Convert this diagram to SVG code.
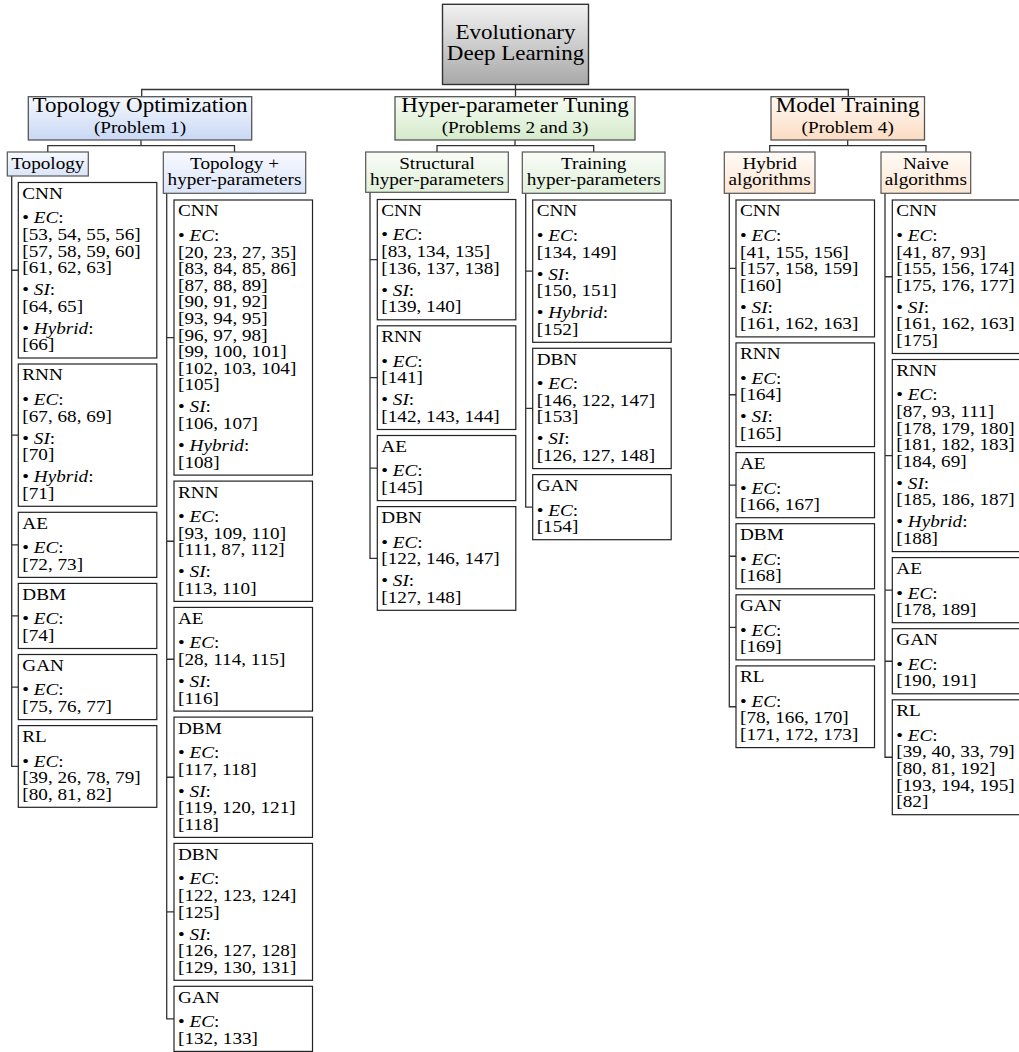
<svg xmlns="http://www.w3.org/2000/svg" width="1019" height="1052" viewBox="0 0 1019 1052">
<defs>
<linearGradient id="gRoot" x1="0" y1="0" x2="0" y2="1"><stop offset="0" stop-color="#f2f2f2"/><stop offset="1" stop-color="#a8a8a8"/></linearGradient>
<linearGradient id="gBlue" x1="0" y1="0" x2="0" y2="1"><stop offset="0" stop-color="#f5f8fe"/><stop offset="1" stop-color="#c9d8f5"/></linearGradient>
<linearGradient id="gGreen" x1="0" y1="0" x2="0" y2="1"><stop offset="0" stop-color="#f8fcf5"/><stop offset="1" stop-color="#d4eaca"/></linearGradient>
<linearGradient id="gOrange" x1="0" y1="0" x2="0" y2="1"><stop offset="0" stop-color="#fffaf5"/><stop offset="1" stop-color="#fbdcc2"/></linearGradient>
<linearGradient id="gBlue2" x1="0" y1="0" x2="0" y2="1"><stop offset="0" stop-color="#f7f9fe"/><stop offset="1" stop-color="#dbe5f8"/></linearGradient>
<linearGradient id="gGreen2" x1="0" y1="0" x2="0" y2="1"><stop offset="0" stop-color="#f9fcf7"/><stop offset="1" stop-color="#e1f0da"/></linearGradient>
<linearGradient id="gOrange2" x1="0" y1="0" x2="0" y2="1"><stop offset="0" stop-color="#fffbf7"/><stop offset="1" stop-color="#fce6d3"/></linearGradient>
</defs>
<style>
.t { font-family: "Liberation Serif", "Times New Roman", serif; font-size: 17px; fill: #000; }
.ti { font-size: 20px; }
.c { text-anchor: middle; }
.i { font-style: italic; }
.root { fill: url(#gRoot); stroke: #333; stroke-width: 1.4; }
.l1 { stroke: #555; stroke-width: 1.3; }
.l2 { stroke: #555; stroke-width: 1.2; }
.box { fill: #fff; stroke: #222; stroke-width: 1.2; }
.con { fill: none; stroke: #333; stroke-width: 1.3; }
</style>
<rect width="1019" height="1052" fill="#fff"/>

<g id="connectors">
<path class="con" d="M515.5 84.5V96.7M141.7 96.7V89.5H848.3V96.7"/>
<path class="con" d="M141 140V145.7M47.8 152V145.7H234.5V152"/>
<path class="con" d="M515 140V145.7M437 152V145.7H593.7V152"/>
<path class="con" d="M847.7 140V145.7M769.7 152V145.7H926V152"/>
<path class="con" d="M11.7 176V766.45H18.3M11.7 270.25H18.3M11.7 435.15H18.3M11.7 544.85H18.3M11.7 615.95H18.3M11.7 687.05H18.3"/>
<path class="con" d="M166.7 193.3V1018.85H174M166.7 337.55H174M166.7 541.25H174M166.7 659.25H174M166.7 777.25H174M166.7 911.85H174"/>
<path class="con" d="M370 192.3V558.45H377.3M370 259.65H377.3M370 377.65H377.3M370 468.05H377.3"/>
<path class="con" d="M525.7 193.3V507.15H532.7M525.7 271.15H532.7M525.7 408.45H532.7"/>
<path class="con" d="M729.3 193.3V706.75H736M729.3 268.45H736M729.3 394.75H736M729.3 485.15H736M729.3 556.25H736M729.3 627.35H736"/>
<path class="con" d="M885 193.3V757.25H892.3M885 276.75H892.3M885 455.55H892.3M885 590.15H892.3M885 661.25H892.3"/>
</g>

<g id="root">
<rect class="root" x="442.5" y="4.3" width="146" height="80.2"/>
<text class="t ti c" transform="matrix(1.15 0 0 1 515.5 0)"><tspan x="0" y="39">Evolutionary</tspan><tspan x="0" y="60.5">Deep Learning</tspan></text>
</g>

<g id="topology-optimization">
<rect class="l1" fill="url(#gBlue)" x="28.3" y="96.7" width="223.4" height="43.3"/>
<text class="t ti c" transform="matrix(1.15 0 0 1 140 0)"><tspan x="0" y="112.5">Topology Optimization</tspan></text>
<text class="t c" transform="matrix(1.13 0 0 1 140 0)"><tspan x="0" y="133">(Problem 1)</tspan></text>
</g>
<g id="hyper-parameter-tuning">
<rect class="l1" fill="url(#gGreen)" x="395" y="96.7" width="240" height="43.3"/>
<text class="t ti c" transform="matrix(1.15 0 0 1 515 0)"><tspan x="0" y="112.5">Hyper-parameter Tuning</tspan></text>
<text class="t c" transform="matrix(1.13 0 0 1 515 0)"><tspan x="0" y="133">(Problems 2 and 3)</tspan></text>
</g>
<g id="model-training">
<rect class="l1" fill="url(#gOrange)" x="771" y="96.7" width="153.5" height="43.3"/>
<text class="t ti c" transform="matrix(1.15 0 0 1 847.7 0)"><tspan x="0" y="112.5">Model Training</tspan></text>
<text class="t c" transform="matrix(1.13 0 0 1 847.7 0)"><tspan x="0" y="133">(Problem 4)</tspan></text>
</g>

<g id="topology">
<rect class="l2" fill="url(#gBlue2)" x="7.3" y="152" width="81" height="24"/>
<text class="t c" transform="matrix(1.13 0 0 1 47.8 0)"><tspan x="0" y="169.5">Topology</tspan></text>
</g>
<g id="topology-hyper">
<rect class="l2" fill="url(#gBlue2)" x="163.3" y="152" width="142.4" height="41.3"/>
<text class="t c" transform="matrix(1.13 0 0 1 234.5 0)"><tspan x="0" y="168.6">Topology +</tspan><tspan x="0" y="185.4">hyper-parameters</tspan></text>
</g>
<g id="structural">
<rect class="l2" fill="url(#gGreen2)" x="365.7" y="152" width="142.6" height="40.3"/>
<text class="t c" transform="matrix(1.13 0 0 1 437 0)"><tspan x="0" y="168.6">Structural</tspan><tspan x="0" y="185.4">hyper-parameters</tspan></text>
</g>
<g id="training">
<rect class="l2" fill="url(#gGreen2)" x="522.3" y="152" width="142.7" height="41.3"/>
<text class="t c" transform="matrix(1.13 0 0 1 593.7 0)"><tspan x="0" y="168.6">Training</tspan><tspan x="0" y="185.4">hyper-parameters</tspan></text>
</g>
<g id="hybrid">
<rect class="l2" fill="url(#gOrange2)" x="724.3" y="152" width="90.7" height="41.3"/>
<text class="t c" transform="matrix(1.13 0 0 1 769.65 0)"><tspan x="0" y="168.6">Hybrid</tspan><tspan x="0" y="185.4">algorithms</tspan></text>
</g>
<g id="naive">
<rect class="l2" fill="url(#gOrange2)" x="881" y="152" width="89.7" height="41.3"/>
<text class="t c" transform="matrix(1.13 0 0 1 925.85 0)"><tspan x="0" y="168.6">Naive</tspan><tspan x="0" y="185.4">algorithms</tspan></text>
</g>

<!-- Column 1: Topology -->
<g id="t-cnn"><rect class="box" x="18.3" y="182.5" width="138.5" height="175.5"/>
<text class="t" transform="matrix(1.13 0 0 1 22.3 0)"><tspan x="0" y="199">CNN</tspan><tspan x="0" y="223.5">• <tspan class="i">EC</tspan>:</tspan><tspan x="0" y="240.1">[53, 54, 55, 56]</tspan><tspan x="0" y="256.7">[57, 58, 59, 60]</tspan><tspan x="0" y="273.3">[61, 62, 63]</tspan><tspan x="0" y="295.3">• <tspan class="i">SI</tspan>:</tspan><tspan x="0" y="311.9">[64, 65]</tspan><tspan x="0" y="333.9">• <tspan class="i">Hybrid</tspan>:</tspan><tspan x="0" y="350.5">[66]</tspan></text></g>
<g id="t-rnn"><rect class="box" x="18.3" y="364" width="138.5" height="142.3"/>
<text class="t" transform="matrix(1.13 0 0 1 22.3 0)"><tspan x="0" y="380.5">RNN</tspan><tspan x="0" y="405">• <tspan class="i">EC</tspan>:</tspan><tspan x="0" y="421.6">[67, 68, 69]</tspan><tspan x="0" y="443.6">• <tspan class="i">SI</tspan>:</tspan><tspan x="0" y="460.2">[70]</tspan><tspan x="0" y="482.2">• <tspan class="i">Hybrid</tspan>:</tspan><tspan x="0" y="498.8">[71]</tspan></text></g>
<g id="t-ae"><rect class="box" x="18.3" y="512.3" width="138.5" height="65.1"/>
<text class="t" transform="matrix(1.13 0 0 1 22.3 0)"><tspan x="0" y="528.8">AE</tspan><tspan x="0" y="553.3">• <tspan class="i">EC</tspan>:</tspan><tspan x="0" y="569.9">[72, 73]</tspan></text></g>
<g id="t-dbm"><rect class="box" x="18.3" y="583.4" width="138.5" height="65.1"/>
<text class="t" transform="matrix(1.13 0 0 1 22.3 0)"><tspan x="0" y="599.9">DBM</tspan><tspan x="0" y="624.4">• <tspan class="i">EC</tspan>:</tspan><tspan x="0" y="641">[74]</tspan></text></g>
<g id="t-gan"><rect class="box" x="18.3" y="654.5" width="138.5" height="65.1"/>
<text class="t" transform="matrix(1.13 0 0 1 22.3 0)"><tspan x="0" y="671">GAN</tspan><tspan x="0" y="695.5">• <tspan class="i">EC</tspan>:</tspan><tspan x="0" y="712.1">[75, 76, 77]</tspan></text></g>
<g id="t-rl"><rect class="box" x="18.3" y="725.6" width="138.5" height="81.7"/>
<text class="t" transform="matrix(1.13 0 0 1 22.3 0)"><tspan x="0" y="742.1">RL</tspan><tspan x="0" y="766.6">• <tspan class="i">EC</tspan>:</tspan><tspan x="0" y="783.2">[39, 26, 78, 79]</tspan><tspan x="0" y="799.8">[80, 81, 82]</tspan></text></g>

<!-- Column 2: Topology + hyper-parameters -->
<g id="th-cnn"><rect class="box" x="174" y="200" width="138.5" height="275.1"/>
<text class="t" transform="matrix(1.13 0 0 1 178 0)"><tspan x="0" y="216.5">CNN</tspan><tspan x="0" y="241">• <tspan class="i">EC</tspan>:</tspan><tspan x="0" y="257.6">[20, 23, 27, 35]</tspan><tspan x="0" y="274.2">[83, 84, 85, 86]</tspan><tspan x="0" y="290.8">[87, 88, 89]</tspan><tspan x="0" y="307.4">[90, 91, 92]</tspan><tspan x="0" y="324">[93, 94, 95]</tspan><tspan x="0" y="340.6">[96, 97, 98]</tspan><tspan x="0" y="357.2">[99, 100, 101]</tspan><tspan x="0" y="373.8">[102, 103, 104]</tspan><tspan x="0" y="390.4">[105]</tspan><tspan x="0" y="412.4">• <tspan class="i">SI</tspan>:</tspan><tspan x="0" y="429">[106, 107]</tspan><tspan x="0" y="451">• <tspan class="i">Hybrid</tspan>:</tspan><tspan x="0" y="467.6">[108]</tspan></text></g>
<g id="th-rnn"><rect class="box" x="174" y="481.1" width="138.5" height="120.3"/>
<text class="t" transform="matrix(1.13 0 0 1 178 0)"><tspan x="0" y="497.6">RNN</tspan><tspan x="0" y="522.1">• <tspan class="i">EC</tspan>:</tspan><tspan x="0" y="538.7">[93, 109, 110]</tspan><tspan x="0" y="555.3">[111, 87, 112]</tspan><tspan x="0" y="577.3">• <tspan class="i">SI</tspan>:</tspan><tspan x="0" y="593.9">[113, 110]</tspan></text></g>
<g id="th-ae"><rect class="box" x="174" y="607.4" width="138.5" height="103.7"/>
<text class="t" transform="matrix(1.13 0 0 1 178 0)"><tspan x="0" y="623.9">AE</tspan><tspan x="0" y="648.4">• <tspan class="i">EC</tspan>:</tspan><tspan x="0" y="665">[28, 114, 115]</tspan><tspan x="0" y="687">• <tspan class="i">SI</tspan>:</tspan><tspan x="0" y="703.6">[116]</tspan></text></g>
<g id="th-dbm"><rect class="box" x="174" y="717.1" width="138.5" height="120.3"/>
<text class="t" transform="matrix(1.13 0 0 1 178 0)"><tspan x="0" y="733.6">DBM</tspan><tspan x="0" y="758.1">• <tspan class="i">EC</tspan>:</tspan><tspan x="0" y="774.7">[117, 118]</tspan><tspan x="0" y="796.7">• <tspan class="i">SI</tspan>:</tspan><tspan x="0" y="813.3">[119, 120, 121]</tspan><tspan x="0" y="829.9">[118]</tspan></text></g>
<g id="th-dbn"><rect class="box" x="174" y="843.4" width="138.5" height="136.9"/>
<text class="t" transform="matrix(1.13 0 0 1 178 0)"><tspan x="0" y="859.9">DBN</tspan><tspan x="0" y="884.4">• <tspan class="i">EC</tspan>:</tspan><tspan x="0" y="901">[122, 123, 124]</tspan><tspan x="0" y="917.6">[125]</tspan><tspan x="0" y="939.6">• <tspan class="i">SI</tspan>:</tspan><tspan x="0" y="956.2">[126, 127, 128]</tspan><tspan x="0" y="972.8">[129, 130, 131]</tspan></text></g>
<g id="th-gan"><rect class="box" x="174" y="986.3" width="138.5" height="65.1"/>
<text class="t" transform="matrix(1.13 0 0 1 178 0)"><tspan x="0" y="1002.8">GAN</tspan><tspan x="0" y="1027.3">• <tspan class="i">EC</tspan>:</tspan><tspan x="0" y="1043.9">[132, 133]</tspan></text></g>

<!-- Column 3: Structural hyper-parameters -->
<g id="s-cnn"><rect class="box" x="377.3" y="199.5" width="138.5" height="120.3"/>
<text class="t" transform="matrix(1.13 0 0 1 381.3 0)"><tspan x="0" y="216">CNN</tspan><tspan x="0" y="240.5">• <tspan class="i">EC</tspan>:</tspan><tspan x="0" y="257.1">[83, 134, 135]</tspan><tspan x="0" y="273.7">[136, 137, 138]</tspan><tspan x="0" y="295.7">• <tspan class="i">SI</tspan>:</tspan><tspan x="0" y="312.3">[139, 140]</tspan></text></g>
<g id="s-rnn"><rect class="box" x="377.3" y="325.8" width="138.5" height="103.7"/>
<text class="t" transform="matrix(1.13 0 0 1 381.3 0)"><tspan x="0" y="342.3">RNN</tspan><tspan x="0" y="366.8">• <tspan class="i">EC</tspan>:</tspan><tspan x="0" y="383.4">[141]</tspan><tspan x="0" y="405.4">• <tspan class="i">SI</tspan>:</tspan><tspan x="0" y="422">[142, 143, 144]</tspan></text></g>
<g id="s-ae"><rect class="box" x="377.3" y="435.5" width="138.5" height="65.1"/>
<text class="t" transform="matrix(1.13 0 0 1 381.3 0)"><tspan x="0" y="452">AE</tspan><tspan x="0" y="476.5">• <tspan class="i">EC</tspan>:</tspan><tspan x="0" y="493.1">[145]</tspan></text></g>
<g id="s-dbn"><rect class="box" x="377.3" y="506.6" width="138.5" height="103.7"/>
<text class="t" transform="matrix(1.13 0 0 1 381.3 0)"><tspan x="0" y="523.1">DBN</tspan><tspan x="0" y="547.6">• <tspan class="i">EC</tspan>:</tspan><tspan x="0" y="564.2">[122, 146, 147]</tspan><tspan x="0" y="586.2">• <tspan class="i">SI</tspan>:</tspan><tspan x="0" y="602.8">[127, 148]</tspan></text></g>

<!-- Column 4: Training hyper-parameters -->
<g id="tr-cnn"><rect class="box" x="532.7" y="200" width="138.5" height="142.3"/>
<text class="t" transform="matrix(1.13 0 0 1 536.7 0)"><tspan x="0" y="216.5">CNN</tspan><tspan x="0" y="241">• <tspan class="i">EC</tspan>:</tspan><tspan x="0" y="257.6">[134, 149]</tspan><tspan x="0" y="279.6">• <tspan class="i">SI</tspan>:</tspan><tspan x="0" y="296.2">[150, 151]</tspan><tspan x="0" y="318.2">• <tspan class="i">Hybrid</tspan>:</tspan><tspan x="0" y="334.8">[152]</tspan></text></g>
<g id="tr-dbn"><rect class="box" x="532.7" y="348.3" width="138.5" height="120.3"/>
<text class="t" transform="matrix(1.13 0 0 1 536.7 0)"><tspan x="0" y="364.8">DBN</tspan><tspan x="0" y="389.3">• <tspan class="i">EC</tspan>:</tspan><tspan x="0" y="405.9">[146, 122, 147]</tspan><tspan x="0" y="422.5">[153]</tspan><tspan x="0" y="444.5">• <tspan class="i">SI</tspan>:</tspan><tspan x="0" y="461.1">[126, 127, 148]</tspan></text></g>
<g id="tr-gan"><rect class="box" x="532.7" y="474.6" width="138.5" height="65.1"/>
<text class="t" transform="matrix(1.13 0 0 1 536.7 0)"><tspan x="0" y="491.1">GAN</tspan><tspan x="0" y="515.6">• <tspan class="i">EC</tspan>:</tspan><tspan x="0" y="532.2">[154]</tspan></text></g>

<!-- Column 5: Hybrid algorithms -->
<g id="h-cnn"><rect class="box" x="736" y="200" width="138.5" height="136.9"/>
<text class="t" transform="matrix(1.13 0 0 1 740 0)"><tspan x="0" y="216.5">CNN</tspan><tspan x="0" y="241">• <tspan class="i">EC</tspan>:</tspan><tspan x="0" y="257.6">[41, 155, 156]</tspan><tspan x="0" y="274.2">[157, 158, 159]</tspan><tspan x="0" y="290.8">[160]</tspan><tspan x="0" y="312.8">• <tspan class="i">SI</tspan>:</tspan><tspan x="0" y="329.4">[161, 162, 163]</tspan></text></g>
<g id="h-rnn"><rect class="box" x="736" y="342.9" width="138.5" height="103.7"/>
<text class="t" transform="matrix(1.13 0 0 1 740 0)"><tspan x="0" y="359.4">RNN</tspan><tspan x="0" y="383.9">• <tspan class="i">EC</tspan>:</tspan><tspan x="0" y="400.5">[164]</tspan><tspan x="0" y="422.5">• <tspan class="i">SI</tspan>:</tspan><tspan x="0" y="439.1">[165]</tspan></text></g>
<g id="h-ae"><rect class="box" x="736" y="452.6" width="138.5" height="65.1"/>
<text class="t" transform="matrix(1.13 0 0 1 740 0)"><tspan x="0" y="469.1">AE</tspan><tspan x="0" y="493.6">• <tspan class="i">EC</tspan>:</tspan><tspan x="0" y="510.2">[166, 167]</tspan></text></g>
<g id="h-dbm"><rect class="box" x="736" y="523.7" width="138.5" height="65.1"/>
<text class="t" transform="matrix(1.13 0 0 1 740 0)"><tspan x="0" y="540.2">DBM</tspan><tspan x="0" y="564.7">• <tspan class="i">EC</tspan>:</tspan><tspan x="0" y="581.3">[168]</tspan></text></g>
<g id="h-gan"><rect class="box" x="736" y="594.8" width="138.5" height="65.1"/>
<text class="t" transform="matrix(1.13 0 0 1 740 0)"><tspan x="0" y="611.3">GAN</tspan><tspan x="0" y="635.8">• <tspan class="i">EC</tspan>:</tspan><tspan x="0" y="652.4">[169]</tspan></text></g>
<g id="h-rl"><rect class="box" x="736" y="665.9" width="138.5" height="81.7"/>
<text class="t" transform="matrix(1.13 0 0 1 740 0)"><tspan x="0" y="682.4">RL</tspan><tspan x="0" y="706.9">• <tspan class="i">EC</tspan>:</tspan><tspan x="0" y="723.5">[78, 166, 170]</tspan><tspan x="0" y="740.1">[171, 172, 173]</tspan></text></g>

<!-- Column 6: Naive algorithms -->
<g id="n-cnn"><rect class="box" x="892.3" y="200" width="138.5" height="153.5"/>
<text class="t" transform="matrix(1.13 0 0 1 896.3 0)"><tspan x="0" y="216.5">CNN</tspan><tspan x="0" y="241">• <tspan class="i">EC</tspan>:</tspan><tspan x="0" y="257.6">[41, 87, 93]</tspan><tspan x="0" y="274.2">[155, 156, 174]</tspan><tspan x="0" y="290.8">[175, 176, 177]</tspan><tspan x="0" y="312.8">• <tspan class="i">SI</tspan>:</tspan><tspan x="0" y="329.4">[161, 162, 163]</tspan><tspan x="0" y="346">[175]</tspan></text></g>
<g id="n-rnn"><rect class="box" x="892.3" y="359.5" width="138.5" height="192.1"/>
<text class="t" transform="matrix(1.13 0 0 1 896.3 0)"><tspan x="0" y="376">RNN</tspan><tspan x="0" y="400.5">• <tspan class="i">EC</tspan>:</tspan><tspan x="0" y="417.1">[87, 93, 111]</tspan><tspan x="0" y="433.7">[178, 179, 180]</tspan><tspan x="0" y="450.3">[181, 182, 183]</tspan><tspan x="0" y="466.9">[184, 69]</tspan><tspan x="0" y="488.9">• <tspan class="i">SI</tspan>:</tspan><tspan x="0" y="505.5">[185, 186, 187]</tspan><tspan x="0" y="527.5">• <tspan class="i">Hybrid</tspan>:</tspan><tspan x="0" y="544.1">[188]</tspan></text></g>
<g id="n-ae"><rect class="box" x="892.3" y="557.6" width="138.5" height="65.1"/>
<text class="t" transform="matrix(1.13 0 0 1 896.3 0)"><tspan x="0" y="574.1">AE</tspan><tspan x="0" y="598.6">• <tspan class="i">EC</tspan>:</tspan><tspan x="0" y="615.2">[178, 189]</tspan></text></g>
<g id="n-gan"><rect class="box" x="892.3" y="628.7" width="138.5" height="65.1"/>
<text class="t" transform="matrix(1.13 0 0 1 896.3 0)"><tspan x="0" y="645.2">GAN</tspan><tspan x="0" y="669.7">• <tspan class="i">EC</tspan>:</tspan><tspan x="0" y="686.3">[190, 191]</tspan></text></g>
<g id="n-rl"><rect class="box" x="892.3" y="699.8" width="138.5" height="114.9"/>
<text class="t" transform="matrix(1.13 0 0 1 896.3 0)"><tspan x="0" y="716.3">RL</tspan><tspan x="0" y="740.8">• <tspan class="i">EC</tspan>:</tspan><tspan x="0" y="757.4">[39, 40, 33, 79]</tspan><tspan x="0" y="774">[80, 81, 192]</tspan><tspan x="0" y="790.6">[193, 194, 195]</tspan><tspan x="0" y="807.2">[82]</tspan></text></g>
</svg>
